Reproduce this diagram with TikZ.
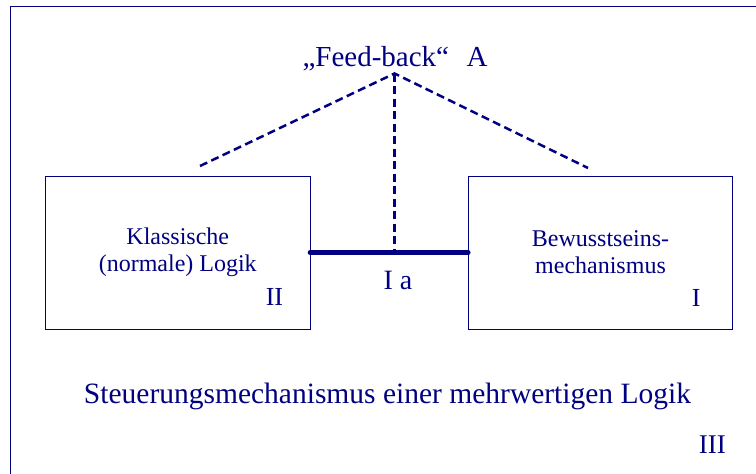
\documentclass[tikz,border=0pt]{standalone}
\usepackage{fontspec}
\setmainfont{Liberation Serif}
\usepackage{tikz}
\usepackage{xcolor}
\definecolor{navy}{HTML}{000080}

\begin{document}
\begin{tikzpicture}[x=1pt,y=-1pt,
    box/.style={draw=navy,line width=0.8pt,minimum width=264.5pt,minimum height=153pt,
        inner sep=0pt,align=center,text=navy,font=\fontsize{24}{27}\selectfont},
    feedline/.style={draw=navy,line width=2.5pt,dash pattern=on 8pt off 4.5pt},
    lbl/.style={text=navy,inner sep=0pt}]
    \useasboundingbox (0,0) rectangle (756,474);
    \draw[navy,line width=1pt] (10.5,474) |- (756,6);
    \node[box] (klassisch) at (177.75,252.5) {Klassische\\(normale) Logik};
    \node[box] (bewusst) at (600.5,252.5) {Bewusstseins-\\mechanismus};
    \coordinate (A) at (394.5,73.5);
    \coordinate (L) at (200,166);
    \coordinate (R) at (588,168);
    \coordinate (M) at (A |- klassisch.east);
    \draw[navy,line width=5.5pt,line cap=round] (klassisch.east) -- (bewusst.west);
    \draw[feedline] (L) -- (A) -- (R);
    \draw[feedline] (A) -- (M);
    % labels
    \node[lbl,anchor=base,font=\fontsize{29}{32}\selectfont] (feedback) at (395,66.5) {„Feed-back“\hspace{0.6em}A};
    \node[lbl,anchor=base,font=\fontsize{28}{32}\selectfont] (Ia) at (398,289) {I a};
    \node[lbl,anchor=base east,font=\fontsize{26}{30}\selectfont] (II) at (283.3,305.7) {II};
    \node[lbl,anchor=base east,font=\fontsize{26}{30}\selectfont] (I) at (700.7,306.7) {I};
    \node[lbl,anchor=base,font=\fontsize{29.5}{33}\selectfont] (steuerung) at (387.5,403) {Steuerungsmechanismus einer mehrwertigen Logik};
    \node[lbl,anchor=base east,font=\fontsize{27}{31}\selectfont] (III) at (726,453) {III};
\end{tikzpicture}
\end{document}
